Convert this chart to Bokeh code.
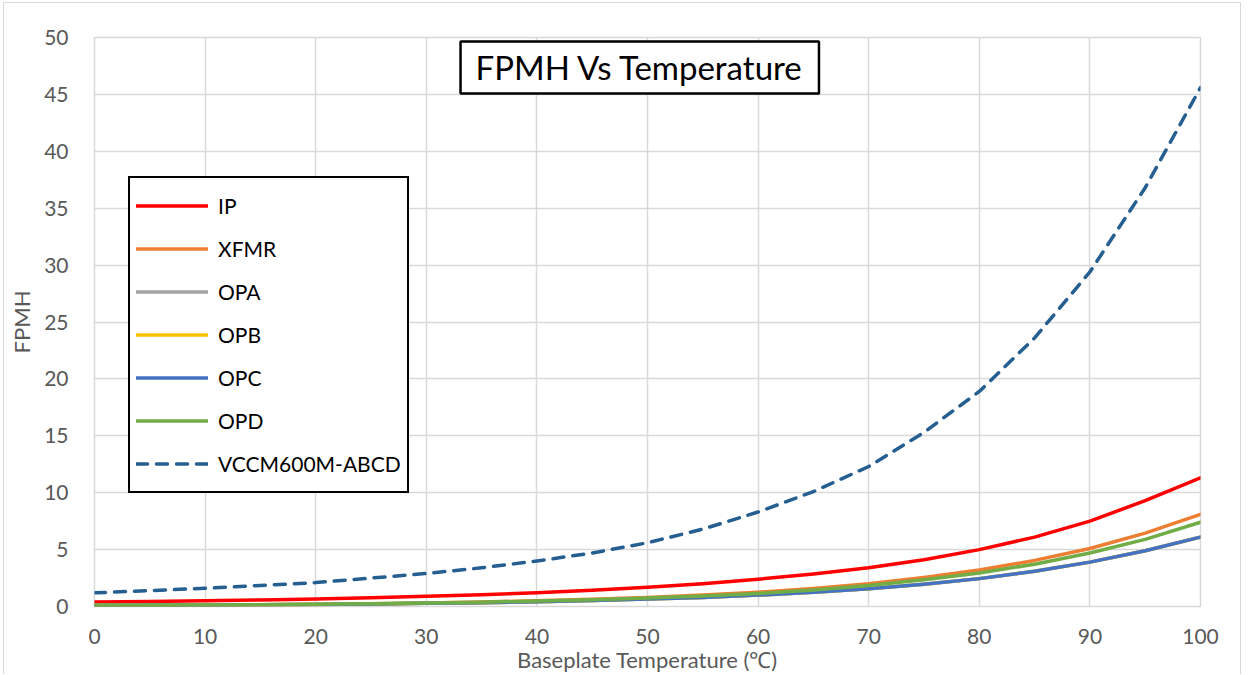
from bokeh.plotting import figure
from bokeh.models import Legend, LegendItem, Label, FixedTicker, Range1d
from bokeh.embed import file_html
from bokeh.resources import INLINE

temps = [0, 5, 10, 15, 20, 25, 30, 35, 40, 45, 50, 55, 60, 65, 70, 75, 80, 85, 90, 95, 100]
ip = [0.4, 0.45, 0.5, 0.57, 0.65, 0.76, 0.9, 1.04, 1.2, 1.42, 1.7, 2.0, 2.4, 2.85, 3.4, 4.1, 5.0, 6.1, 7.5, 9.3, 11.3]
xfmr = [0.08, 0.1, 0.12, 0.15, 0.2, 0.25, 0.3, 0.4, 0.5, 0.63, 0.8, 1.0, 1.25, 1.58, 2.0, 2.55, 3.2, 4.05, 5.1, 6.45, 8.1]
opa = [0.08, 0.1, 0.12, 0.15, 0.18, 0.23, 0.28, 0.34, 0.42, 0.52, 0.65, 0.8, 1.0, 1.25, 1.55, 1.95, 2.45, 3.1, 3.9, 4.9, 6.1]
opb = [0.08, 0.1, 0.12, 0.15, 0.18, 0.23, 0.28, 0.34, 0.42, 0.52, 0.65, 0.8, 1.0, 1.25, 1.55, 1.95, 2.45, 3.1, 3.9, 4.9, 6.1]
opc = [0.08, 0.1, 0.12, 0.15, 0.18, 0.23, 0.28, 0.34, 0.42, 0.52, 0.65, 0.8, 1.0, 1.25, 1.55, 1.95, 2.45, 3.1, 3.9, 4.9, 6.1]
opd = [0.1, 0.11, 0.13, 0.16, 0.2, 0.25, 0.3, 0.38, 0.48, 0.6, 0.75, 0.93, 1.15, 1.46, 1.85, 2.35, 2.95, 3.72, 4.7, 5.9, 7.4]
vccm = [1.2, 1.4, 1.6, 1.85, 2.1, 2.5, 2.9, 3.4, 4.0, 4.7, 5.6, 6.8, 8.3, 10.1, 12.3, 15.3, 18.9, 23.6, 29.4, 36.8, 45.6]

names = ["IP", "XFMR", "OPA", "OPB", "OPC", "OPD", "VCCM600M-ABCD"]
series = [ip, xfmr, opa, opb, opc, opd, vccm]
colors = ["#FF0000", "#ED7D31", "#A5A5A5", "#FFC000", "#4472C4", "#70AD47", "#255E91"]
dashes = ["solid", "solid", "solid", "solid", "solid", "solid", "11 9"]

x_ticks = [0, 10, 20, 30, 40, 50, 60, 70, 80, 90, 100]
y_ticks = [0, 5, 10, 15, 20, 25, 30, 35, 40, 45, 50]

FONT = "Lato"
GRAY = "#595959"

p = figure(width=1238, height=672, output_backend="svg", toolbar_location=None,
           x_range=Range1d(0, 100), y_range=Range1d(0, 50),
           min_border_left=90, min_border_right=42, min_border_top=34, min_border_bottom=60)
p.margin = (2, 0, 0, 3)
p.styles = {"border-top": "1px solid #d9d9d9", "border-left": "1px solid #d9d9d9",
            "border-right": "1px solid #d9d9d9"}
p.outline_line_color = "#d9d9d9"
p.outline_line_width = 1.5

for ax, ticks in ((p.xaxis[0], x_ticks), (p.yaxis[0], y_ticks)):
    ax.ticker = FixedTicker(ticks=ticks)
    ax.axis_line_color = None
    ax.major_tick_line_color = None
    ax.minor_tick_line_color = None
    ax.major_label_text_font = FONT
    ax.major_label_text_font_size = "21px"
    ax.major_label_text_color = GRAY
    ax.axis_label_text_font = FONT
    ax.axis_label_text_font_size = "22px"
    ax.axis_label_text_color = GRAY
    ax.axis_label_text_font_style = "normal"

p.xaxis.axis_label = "Baseplate Temperature (℃)"
p.yaxis.axis_label = "FPMH"
p.xaxis.major_label_standoff = 16
p.xaxis.axis_label_standoff = -1
p.yaxis.major_label_standoff = 20
p.yaxis.axis_label_standoff = 6

p.xgrid.ticker = FixedTicker(ticks=x_ticks)
p.ygrid.ticker = FixedTicker(ticks=y_ticks)
p.grid.grid_line_color = "#d9d9d9"
p.grid.grid_line_width = 1.5

items = []
for name, ys, c, d in zip(names, series, colors, dashes):
    r = p.line(temps, ys, line_color=c, line_width=3.5, line_dash=d, line_cap="round", line_join="round")
    items.append(LegendItem(label=name, renderers=[r]))

legend = Legend(items=items, location=(34, 113), orientation="vertical",
                border_line_color="black", border_line_width=2, border_line_alpha=1,
                background_fill_color="white", background_fill_alpha=1,
                padding=6, spacing=0, margin=0,
                glyph_width=72, glyph_height=43, label_height=43, label_standoff=10,
                label_text_font=FONT, label_text_font_size="21px", label_text_color="black")
p.add_layout(legend, "center")

title = Label(x=49.3, y=47.37, text="FPMH Vs Temperature", text_align="center", text_baseline="middle",
              text_font=FONT, text_font_size="33px", text_color="black",
              border_line_color="black", border_line_width=2.5,
              background_fill_color="white", background_fill_alpha=1, padding=(15, 15, 6, 6))
p.add_layout(title)

open("out.html", "w").write(file_html(p, INLINE))
